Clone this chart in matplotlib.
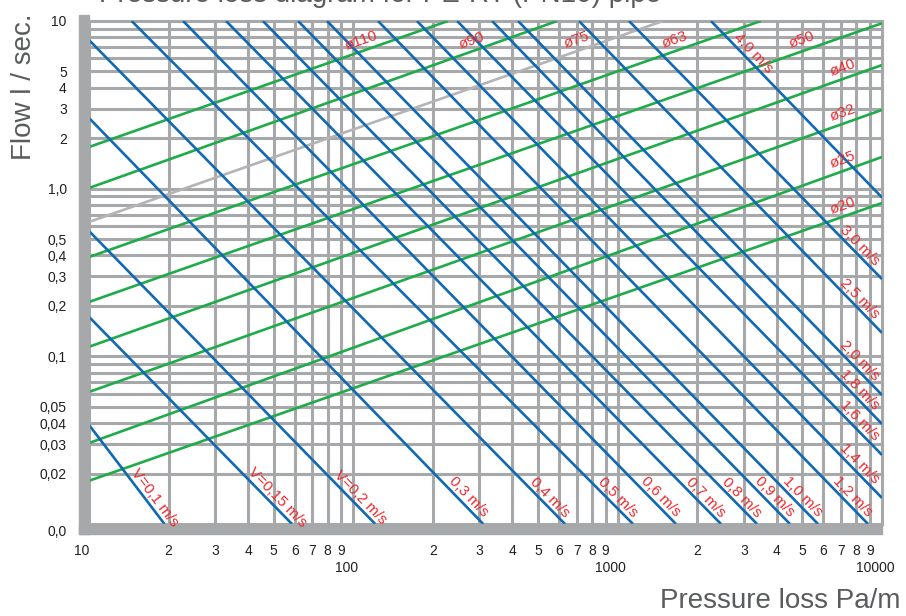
import numpy as np
import matplotlib
matplotlib.use('Agg')
import matplotlib.pyplot as plt
from matplotlib.patches import Rectangle
from matplotlib.transforms import ScaledTranslation

plt.rcParams['font.family'] = ['Liberation Sans', 'DejaVu Sans']

# pipe lines: end points (pressure loss Pa/m, flow l/s)
pipe_names = ['ø110', 'ø90', 'ø75', 'ø63', 'ø50', 'ø40', 'ø32', 'ø25', 'ø20']
pipe_x0 = [10, 10, 10, 10, 10, 10, 10, 10, 10]
pipe_y0 = [1.772, 1.009, 0.633, 0.391, 0.211, 0.114, 0.0613, 0.0304, 0.0181]
pipe_x1 = [228, 590, 1484, 3480, 10000, 10000, 10000, 10000, 10000]
pipe_y1 = [10, 10, 10, 10, 9.7, 5.46, 2.95, 1.545, 0.821]
pipe_colors = ['#1fab4a', '#1fab4a', '#b4b4b6', '#1fab4a', '#1fab4a',
               '#1fab4a', '#1fab4a', '#1fab4a', '#1fab4a']

# velocity lines
vel_names = ['V=0,1 m/s', 'V=0,15 m/s', 'V=0,2 m/s', '0,3 m/s', '0,4 m/s',
             '0,5 m/s', '0,6 m/s', '0,7 m/s', '0,8 m/s', '0,9 m/s', '1,0 m/s',
             '1,2 m/s', '1,4 m/s', '1,6 m/s', '1,8 m/s', '2,0 m/s', '2,5 m/s',
             '3,0 m/s', '4.0 m/s']
vel_x0 = [10, 10, 10, 10, 10, 14.5, 22.7, 33.0, 45.5, 61.8, 79.5, 124,
          174, 247, 335, 420, 714, 1104, 2255]
vel_y0 = [0.0390, 0.172, 0.559, 2.64, 7.70, 10, 10, 10, 10, 10, 10, 10,
          10, 10, 10, 10, 10, 10, 10]
vel_x1 = [19.3, 58.6, 121, 310, 632, 1143, 1662, 2460, 3367, 4487, 5728, 8853,
          10000, 10000, 10000, 10000, 10000, 10000, 10000]
vel_y1 = [0.01, 0.01, 0.01, 0.01, 0.01, 0.01, 0.01, 0.01, 0.01, 0.01, 0.01, 0.01,
          0.0143, 0.0258, 0.0395, 0.0588, 0.138, 0.289, 0.886]

yticks = [0.01, 0.02, 0.03, 0.04, 0.05, 0.1, 0.2, 0.3, 0.4, 0.5, 1, 2, 3, 4, 5, 10]
ytick_labels = ['0,0', '0,02', '0,03', '0,04', '0,05', '0,1', '0,2', '0,3', '0,4',
                '0,5', '1,0', '2', '3', '4', '5', '10']
xticks = [10, 20, 30, 40, 50, 60, 70, 80, 90, 200, 300, 400, 500, 600, 700,
          800, 900, 2000, 3000, 4000, 5000, 6000, 7000, 8000, 9000]
xtick_labels = ['10', '2', '3', '4', '5', '6', '7', '8', '9',
                '2', '3', '4', '5', '6', '7', '8', '9',
                '2', '3', '4', '5', '6', '7', '8', '9']
decades = [100, 1000, 10000]

GRID = '#a7a8aa'
BLUE = '#1169b3'
RED = '#ee2a2f'
TEXT = '#5a5b5d'

W, H = 906, 616
fig = plt.figure(figsize=(W / 100, H / 100), dpi=100)
L, R, T, B = 89, 882, 21, 524
ax = fig.add_axes([L / W, 1 - B / H, (R - L) / W, (B - T) / H])
ax.set_xscale('log')
ax.set_yscale('log')
ax.set_xlim(10, 10000)
ax.set_ylim(0.01, 10)
for s in ax.spines.values():
    s.set_visible(False)

# grid
for dec in [10, 100, 1000]:
    for k in range(1, 10):
        ax.axvline(k * dec, color=GRID, lw=2.2, zorder=1, clip_on=False)
ax.axvline(10000, color=GRID, lw=2.2, zorder=1, clip_on=False)
for dec in [0.01, 0.1, 1]:
    for k in range(1, 10):
        ax.axhline(k * dec, color=GRID, lw=2.2, zorder=1, clip_on=False)
ax.axhline(10, color=GRID, lw=2.2, zorder=1, clip_on=False)

# thick frame on left and bottom
aw, ah = R - L, B - T
ax.add_patch(Rectangle((-10 / aw, -10 / ah), 10 / aw, (ah + 16) / ah,
                       transform=ax.transAxes, color=GRID, clip_on=False, zorder=5))
ax.add_patch(Rectangle((-10 / aw, -10 / ah), (aw + 10) / aw, 10 / ah,
                       transform=ax.transAxes, color=GRID, clip_on=False, zorder=5))


def on_line(x0, y0, x1, y1, x=None, y=None):
    lx0, ly0, lx1, ly1 = np.log10([x0, y0, x1, y1])
    b = (ly1 - ly0) / (lx1 - lx0)
    if y is not None:
        return 10 ** (lx0 + (np.log10(y) - ly0) / b), y
    return x, 10 ** (ly0 + b * (np.log10(x) - lx0))


def angle(x0, y0, x1, y1):
    p = ax.transData.transform([(x0, y0), (x1, y1)])
    return np.degrees(np.arctan2(p[1, 1] - p[0, 1], p[1, 0] - p[0, 0]))


def put_label(txt, pt, ang, dist):
    a = np.radians(ang)
    ax.annotate(txt, pt, xytext=(-np.sin(a) * dist, np.cos(a) * dist),
                textcoords='offset points', rotation=ang, rotation_mode='anchor',
                ha='center', va='center', color=RED, fontsize=11, zorder=6)


for i in range(len(pipe_names)):
    ax.plot([pipe_x0[i], pipe_x1[i]], [pipe_y0[i], pipe_y1[i]],
            color=pipe_colors[i], lw=1.9, zorder=3, solid_capstyle='butt')
    pt = on_line(pipe_x0[i], pipe_y0[i], pipe_x1[i], pipe_y1[i], y=6.7)
    if pt[0] > 7300:
        pt = on_line(pipe_x0[i], pipe_y0[i], pipe_x1[i], pipe_y1[i], x=7300)
    put_label(pipe_names[i], pt, angle(pipe_x0[i], pipe_y0[i], pipe_x1[i], pipe_y1[i]), 7.5)

for i in range(len(vel_names)):
    ax.plot([vel_x0[i], vel_x1[i]], [vel_y0[i], vel_y1[i]],
            color=BLUE, lw=1.9, zorder=3, solid_capstyle='butt')
    if vel_y1[i] > 0.5:
        pt = on_line(vel_x0[i], vel_y0[i], vel_x1[i], vel_y1[i], y=6.0)
    else:
        pt = on_line(vel_x0[i], vel_y0[i], vel_x1[i], vel_y1[i], y=0.0134)
        if pt[0] > 7850:
            pt = on_line(vel_x0[i], vel_y0[i], vel_x1[i], vel_y1[i], x=7850)
    put_label(vel_names[i], pt, angle(vel_x0[i], vel_y0[i], vel_x1[i], vel_y1[i]), 5.8)

ax.set_xticks(xticks)
ax.set_xticklabels(xtick_labels)
ax.set_yticks(yticks)
ax.set_yticklabels(ytick_labels)
ax.minorticks_off()
ax.tick_params(axis='x', length=0, pad=14.5, labelsize=10, labelcolor='#231f20')
ax.tick_params(axis='y', length=0, pad=16, labelsize=10, labelcolor='#231f20')

# small nudges seen in the original
lab = ax.get_xticklabels()[0]
lab.set_transform(lab.get_transform() + ScaledTranslation(-0.07, 0, fig.dpi_scale_trans))
lab = ax.get_yticklabels()[0]
lab.set_transform(lab.get_transform() + ScaledTranslation(0, -0.06, fig.dpi_scale_trans))

for d in decades:
    ax.annotate(str(d), (d, 0.01), xytext=(-5, -32), textcoords='offset points',
                ha='center', va='center', fontsize=10, color='#231f20')

fig.text(900 / W, 1 - 608 / H, 'Pressure loss Pa/m', ha='right', va='baseline',
         fontsize=20, color=TEXT)
fig.text(24 / W, 1 - 160 / H, 'Flow l / sec.', rotation=90, ha='center', va='bottom',
         fontsize=20, color=TEXT)
fig.text(99 / W, 1 - 1.5 / H, 'Pressure loss diagram for PE-RT (PN10) pipe',
         ha='left', va='baseline', fontsize=20, color=TEXT)

fig.savefig('out.png', dpi=100)
